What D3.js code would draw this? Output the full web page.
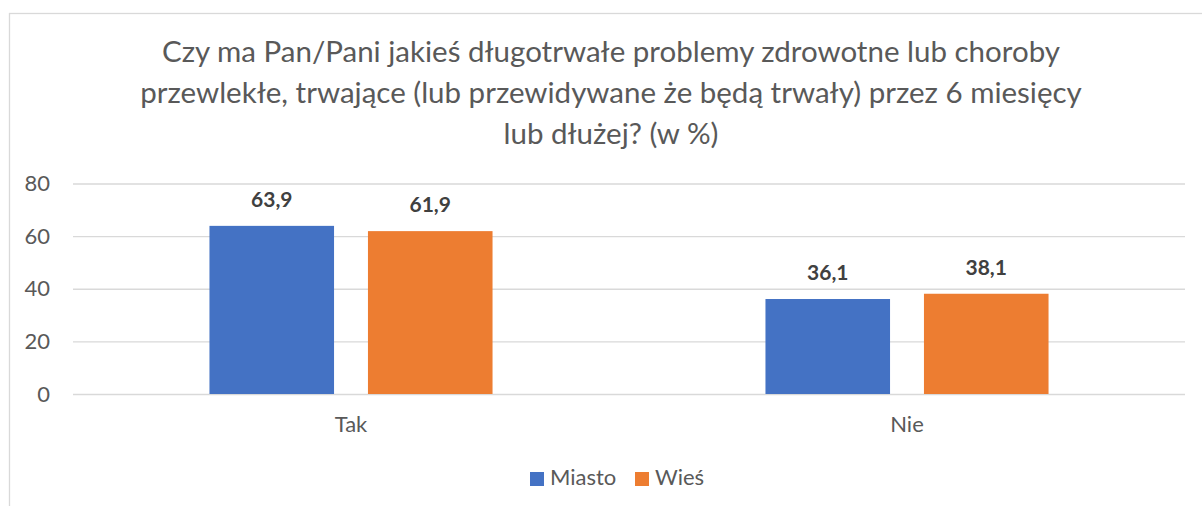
<!DOCTYPE html>
<html>
<head>
    <meta charset="utf-8" />
    <title></title>
    <script src="https://cdn.jsdelivr.net/npm/d3@7"></script>
    <style>
        body { margin: 0; background: #fff; }
        svg text { font-family: Lato, "Open Sans", sans-serif; fill: #595959; }
        .grid line { stroke: #d9d9d9; stroke-width: 1.3px; }
    </style>
</head>
<body>
    <svg width="1202" height="506"></svg>
    <script>
        var titleLines = [
            'Czy ma Pan/Pani jakieś długotrwałe problemy zdrowotne lub choroby',
            'przewlekłe, trwające (lub przewidywane że będą trwały) przez 6 miesięcy',
            'lub dłużej? (w %)'
        ];
        var categories = ['Tak', 'Nie'];
        var series = ['Miasto', 'Wieś'];
        var miasto = [63.9, 36.1];
        var wies = [61.9, 38.1];
        var yTicks = [0, 20, 40, 60, 80];
        var colors = ['#4472c4', '#ed7d31'];

        var values = [miasto, wies];
        var svg = d3.select('svg');

        // chart frame (cut off at right and bottom like the source)
        svg.append('rect')
            .attr('x', 9.5).attr('y', 13.5)
            .attr('width', 1210).attr('height', 520)
            .attr('fill', '#fff')
            .attr('stroke', '#d9d9d9')
            .attr('stroke-width', 1.3);

        var title = svg.append('text')
            .attr('text-anchor', 'middle')
            .style('font-size', '29.5px');
        titleLines.forEach(function (t, i) {
            title.append('tspan')
                .attr('x', 611)
                .attr('y', 62 + i * 41)
                .text(t);
        });

        var plotL = 73, plotR = 1185, plotT = 183.5, plotB = 394;

        var y = d3.scaleLinear().domain([0, 80]).range([plotB, plotT]);
        var x0 = d3.scaleBand().domain(categories).range([plotL, plotR]);
        var x1 = d3.scaleBand().domain(series)
            .range([0, x0.bandwidth()])
            .paddingInner(0.214)
            .paddingOuter(0.861);

        var yAxis = svg.append('g')
            .attr('class', 'grid')
            .attr('transform', 'translate(' + plotL + ',0)')
            .call(d3.axisLeft(y).tickValues(yTicks).tickSize(-(plotR - plotL)).tickPadding(23));
        yAxis.select('.domain').remove();
        yAxis.selectAll('text').style('font-size', '22px').attr('fill', '#595959');

        var xAxis = svg.append('g')
            .attr('transform', 'translate(0,' + plotB + ')')
            .call(d3.axisBottom(x0).tickSize(0).tickPadding(22));
        xAxis.select('.domain').remove();
        xAxis.selectAll('text').style('font-size', '22px').attr('fill', '#595959');

        var groups = svg.selectAll('.cat')
            .data(categories)
            .enter().append('g')
            .attr('class', 'cat')
            .attr('transform', function (d) { return 'translate(' + x0(d) + ',0)'; });

        groups.selectAll('rect')
            .data(function (d, ci) {
                return series.map(function (s, si) { return { s: s, v: values[si][ci], i: si }; });
            })
            .enter().append('rect')
            .attr('x', function (d) { return x1(d.s); })
            .attr('y', function (d) { return y(d.v); })
            .attr('width', x1.bandwidth())
            .attr('height', function (d) { return plotB - y(d.v); })
            .attr('fill', function (d) { return colors[d.i]; });

        groups.selectAll('.lbl')
            .data(function (d, ci) {
                return series.map(function (s, si) { return { s: s, v: values[si][ci] }; });
            })
            .enter().append('text')
            .attr('class', 'lbl')
            .attr('x', function (d) { return x1(d.s) + x1.bandwidth() / 2; })
            .attr('y', function (d) { return y(d.v) - 19; })
            .attr('text-anchor', 'middle')
            .style('font-size', '21px')
            .style('font-weight', 'bold')
            .style('fill', '#404040')
            .text(function (d) { return d.v.toFixed(1).replace('.', ','); });

        // legend
        var legendX = [530, 635];
        var legend = svg.selectAll('.leg')
            .data(series)
            .enter().append('g')
            .attr('class', 'leg')
            .attr('transform', function (d, i) { return 'translate(' + legendX[i] + ',472)'; });
        legend.append('rect')
            .attr('width', 14).attr('height', 14)
            .attr('fill', function (d, i) { return colors[i]; });
        legend.append('text')
            .attr('x', 20).attr('y', 13)
            .style('font-size', '22px')
            .text(function (d) { return d; });
    </script>
</body>
</html>
